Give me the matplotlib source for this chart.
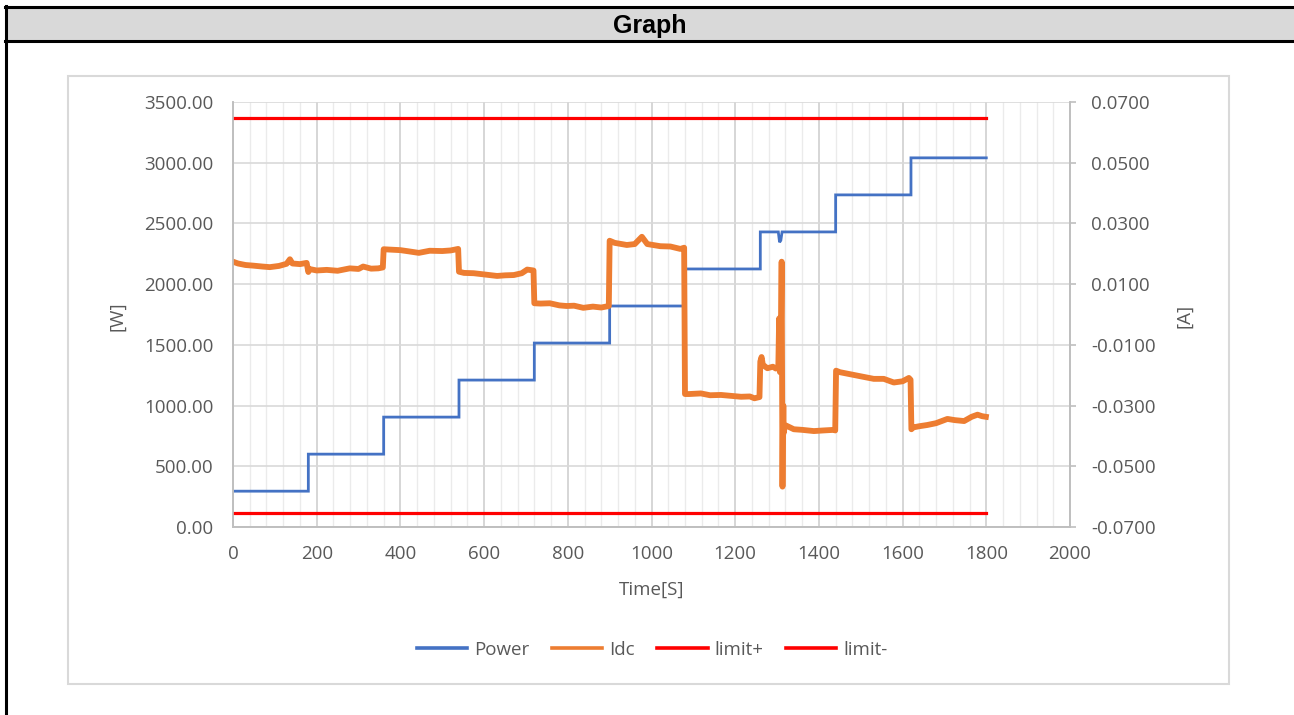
import numpy as np
import matplotlib
matplotlib.use("Agg")
import matplotlib.pyplot as plt
from matplotlib.patches import Rectangle
from matplotlib.lines import Line2D
from matplotlib.ticker import MultipleLocator, FuncFormatter

# --- data ---
step_start = [0, 180, 360, 540, 720, 900, 1080, 1260, 1440, 1620]
step_end = 1800
power_levels = [295, 600, 905, 1210, 1515, 1820, 2125, 2430, 2735, 3040]
# short sag in Power around t=1310 s
dip_t = [1303, 1306, 1309, 1312]
dip_w = [2430, 2345, 2360, 2430]

# Idc [A], one point list per visible feature (jumps at the 180 s steps)
idc_t = [0, 12, 30, 48, 70, 88, 110, 128, 136, 142, 160, 176,
         180, 182, 200, 224, 250, 279, 300, 311, 330, 347, 358,
         360, 372, 400, 420, 444, 470, 500, 520, 538,
         540, 552, 575, 600, 631, 650, 671, 690, 703, 718,
         720, 735, 757, 780, 797, 815, 837, 860, 880, 898,
         900, 912, 941, 960, 977, 990, 1021, 1045, 1069, 1078,
         1080, 1090, 1118, 1140, 1166, 1190, 1214, 1235, 1246, 1258,
         1260, 1263, 1266, 1272, 1277, 1290, 1297, 1303,
         1305, 1307, 1309, 1311, 1312, 1313, 1314, 1315, 1316, 1318,
         1322, 1340, 1360, 1388, 1410, 1436, 1439,
         1441, 1450, 1483, 1505, 1531, 1555, 1579, 1600, 1615, 1619,
         1621, 1625, 1640, 1659, 1680, 1707, 1725, 1747, 1765, 1779, 1790, 1799]
idc_a = [0.0174, 0.0168, 0.0163, 0.0161, 0.0158, 0.0156, 0.0160, 0.0167, 0.0182, 0.0168, 0.0166, 0.0170,
         0.0140, 0.0150, 0.0145, 0.0147, 0.0144, 0.0152, 0.0150, 0.0158, 0.0151, 0.0152, 0.0155,
         0.0215, 0.0214, 0.0212, 0.0208, 0.0203, 0.0210, 0.0209, 0.0211, 0.0216,
         0.0141, 0.0137, 0.0136, 0.0132, 0.0127, 0.0129, 0.0130, 0.0136, 0.0148, 0.0145,
         0.0037, 0.0036, 0.0037, 0.0030, 0.0028, 0.0029, 0.0022, 0.0026, 0.0023, 0.0028,
         0.0243, 0.0236, 0.0229, 0.0232, 0.0256, 0.0232, 0.0225, 0.0224, 0.0216, 0.0220,
         -0.0262, -0.0262, -0.0260, -0.0266, -0.0265, -0.0268, -0.0271, -0.0270, -0.0276, -0.0272,
         -0.0155, -0.0140, -0.0165, -0.0172, -0.0177, -0.0172, -0.0178, -0.0176,
         -0.0013, -0.0190, -0.0100, 0.0174, -0.0200, -0.0567, -0.0380, -0.0300, -0.0390, -0.0370,
         -0.0366, -0.0378, -0.0380, -0.0384, -0.0382, -0.0380, -0.0382,
         -0.0185, -0.0190, -0.0199, -0.0205, -0.0212, -0.0212, -0.0224, -0.0220, -0.0209, -0.0215,
         -0.0378, -0.0372, -0.0368, -0.0364, -0.0358, -0.0344, -0.0348, -0.0351, -0.0337, -0.0330, -0.0335, -0.0337]

limit_t = [0, 1800]
limit_pos = [0.0647, 0.0647]
limit_neg = [-0.0653, -0.0653]

W, H = 1294, 715
GRAY_TXT = "#595959"
plt.rcParams["font.family"] = ["Open Sans", "DejaVu Sans"]
plt.rcParams["axes.unicode_minus"] = False

fig = plt.figure(figsize=(W / 100, H / 100), dpi=100)


def fx(x):
    return x / W


def fy(y):
    return 1 - y / H


# table frame with grey header
fig.add_artist(Rectangle((fx(6), fy(41)), 1, fy(8) - fy(41), transform=fig.transFigure,
                         facecolor="#D9D9D9", edgecolor="none"))
for y in (7, 41):
    fig.add_artist(Line2D([fx(5), 1], [fy(y), fy(y)], transform=fig.transFigure, color="black", lw=2.2))
fig.add_artist(Line2D([fx(6), fx(6)], [fy(6), 0], transform=fig.transFigure, color="black", lw=2.2))
fig.text(fx(650), fy(26), "Graph", ha="center", va="center", fontsize=18, fontweight="bold",
         family=["Liberation Sans", "DejaVu Sans"], color="black")

# chart area border
fig.add_artist(Rectangle((fx(68), fy(684)), fx(1229) - fx(68), fy(76) - fy(684), transform=fig.transFigure,
                         facecolor="none", edgecolor="#D9D9D9", lw=1.5))

ax = fig.add_axes([fx(233), fy(527), fx(1070) - fx(233), fy(102) - fy(527)])
ax2 = ax.twinx()

# power as step line, with the short sag spliced in
pt, pw = [], []
ends = step_start[1:] + [step_end]
for s, e, lvl in zip(step_start, ends, power_levels):
    if s == 1260:
        pt += [s] + dip_t + [e]
        pw += [lvl] + dip_w + [lvl]
    else:
        pt += [s, e]
        pw += [lvl, lvl]
p_line, = ax.plot(pt, pw, color="#4472C4", lw=2.0, label="Power", solid_joinstyle="miter")

i_line, = ax2.plot(idc_t, idc_a, color="#ED7D31", lw=4.2, label="Idc")
lp_line, = ax2.plot(limit_t, limit_pos, color="#FF0000", lw=2.3, label="limit+")
ln_line, = ax2.plot(limit_t, limit_neg, color="#FF0000", lw=2.3, label="limit-")
i_line.set_label("Idc")

ax.set_xlim(0, 2000)
ax.set_ylim(0, 3500)
ax2.set_ylim(-0.07, 0.07)

ax.xaxis.set_major_locator(MultipleLocator(200))
ax.xaxis.set_minor_locator(MultipleLocator(40))
ax.yaxis.set_major_locator(MultipleLocator(500))
ax.yaxis.set_major_formatter(FuncFormatter(lambda v, p: f"{v:.2f}"))
ax2.set_yticks(np.arange(-0.07, 0.0701, 0.02))
ax2.yaxis.set_major_formatter(FuncFormatter(lambda v, p: f"{v:.4f}"))

ax.grid(which="major", axis="x", color="#D0D0D0", lw=1.2)
ax.grid(which="minor", axis="x", color="#EBEBEB", lw=1.0)
ax.grid(which="major", axis="y", color="#D9D9D9", lw=1.2)
ax.set_axisbelow(True)

for a in (ax, ax2):
    a.spines["top"].set_visible(False)
    for side in ("left", "bottom", "right"):
        a.spines[side].set_color("#BFBFBF")
        a.spines[side].set_linewidth(1.2)

ax.tick_params(axis="x", which="both", length=0, pad=13, labelsize=13.5, labelcolor=GRAY_TXT)
ax.tick_params(axis="y", length=0, pad=14, labelsize=13.5, labelcolor=GRAY_TXT)
ax2.tick_params(axis="y", length=4, width=1.2, color="#BFBFBF", pad=11, labelsize=13.5, labelcolor=GRAY_TXT)

fig.text(fx(117), fy(316), "[W]", rotation=90, ha="center", va="center", fontsize=13.5, color=GRAY_TXT)
fig.text(fx(1184), fy(316), "[A]", rotation=90, ha="center", va="center", fontsize=13.5, color=GRAY_TXT)
fig.text(fx(652), fy(590), "Time[S]", ha="center", va="center", fontsize=13.5, color=GRAY_TXT)

fig.legend(handles=[p_line, i_line, lp_line, ln_line], loc="center", bbox_to_anchor=(fx(652), fy(650)),
           ncol=4, frameon=False, fontsize=13.5, labelcolor=GRAY_TXT, handlelength=2.7,
           handletextpad=0.35, columnspacing=1.2)
for h in fig.legends[0].legend_handles:
    h.set_linewidth(2.6)

fig.savefig("out.png", dpi=100)
